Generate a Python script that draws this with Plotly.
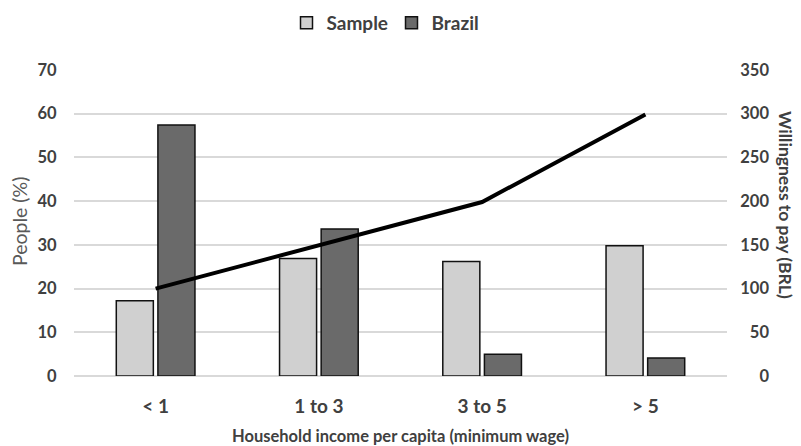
import plotly.graph_objects as go

categories = ["< 1", "1 to 3", "3 to 5", "> 5"]
sample = [17.2, 26.9, 26.2, 29.8]
brazil = [57.4, 33.6, 5.0, 4.1]
wtp = [100, 150, 199, 299]
left_ticks = [0, 10, 20, 30, 40, 50, 60, 70]
right_ticks = [0, 50, 100, 150, 200, 250, 300, 350]

FONT = "Lato"
TXT = "#404040"

def pad(v):
    s = str(v)
    return "\u2007" * (3 - len(s)) + s

fig = go.Figure()
fig.add_trace(go.Bar(x=categories, y=sample, name="Sample",
                     marker=dict(color="#d0d0d0", line=dict(color="#111111", width=1.5))))
fig.add_trace(go.Bar(x=categories, y=brazil, name="Brazil",
                     marker=dict(color="#6a6a6a", line=dict(color="#111111", width=1.5))))
fig.add_trace(go.Scatter(x=categories, y=wtp, yaxis="y2", mode="lines",
                         line=dict(color="black", width=4), showlegend=False))

fig.update_layout(
    width=801, height=446,
    margin=dict(l=74, r=74, t=70, b=70, autoexpand=False),
    paper_bgcolor="white", plot_bgcolor="white",
    font=dict(family=FONT, color=TXT),
    barmode="group", bargap=0.49, bargroupgap=0.11,
    showlegend=True,
    legend=dict(orientation="h", x=0.5 - 9 / 653, xanchor="center", y=1 + (70 - 23) / 306, yanchor="middle",
                font=dict(family=FONT, size=19, color=TXT, weight="bold"),
                itemwidth=30, traceorder="normal", entrywidth=60, entrywidthmode="pixels"),
    xaxis=dict(
        automargin=False,
        tickfont=dict(family=FONT, size=19, color=TXT, weight="bold"),
        ticks="outside", ticklen=13, tickcolor="rgba(0,0,0,0)",
        showline=False, showgrid=False,
    ),
    yaxis=dict(
        automargin=False,
        range=[0, 70], tickvals=left_ticks,
        tickfont=dict(family=FONT, size=16.5, color=TXT, weight="bold"),
        ticks="outside", ticklen=13, tickcolor="rgba(0,0,0,0)",
        gridcolor="#d9d9d9", gridwidth=1.5, zeroline=True, zerolinecolor="#d9d9d9", zerolinewidth=1.5,
        showline=False,
    ),
    yaxis2=dict(
        automargin=False,
        range=[0, 350], overlaying="y", side="right",
        tickvals=right_ticks, ticktext=[pad(v) for v in right_ticks],
        tickfont=dict(family=FONT, size=16.5, color=TXT, weight="bold"),
        ticks="outside", ticklen=9, tickcolor="rgba(0,0,0,0)",
        showgrid=False, zeroline=False, showline=False,
    ),
    annotations=[
        dict(text="Willingness to pay (BRL)", textangle=90,
             xref="paper", yref="paper", x=1.0, xshift=59, y=(376 - 205) / 306,
             xanchor="center", yanchor="middle", showarrow=False,
             font=dict(family=FONT, size=17.5, color=TXT, weight="bold")),
        dict(text="People (%)", textangle=-90,
             xref="paper", yref="paper", x=0, xshift=-55, y=(376 - 222) / 306,
             xanchor="center", yanchor="middle", showarrow=False,
             font=dict(family=FONT, size=19.5, color="#595959")),
        dict(text="Household income per capita (minimum wage)",
             xref="paper", yref="paper", x=0.5, y=0, yshift=-(436 - 376),
             xanchor="center", yanchor="middle", showarrow=False,
             font=dict(family=FONT, size=16.5, color=TXT, weight="bold")),
    ],
)

fig.write_html("out.html", config={"displayModeBar": False},
               post_script="document.body.style.margin='0';")
